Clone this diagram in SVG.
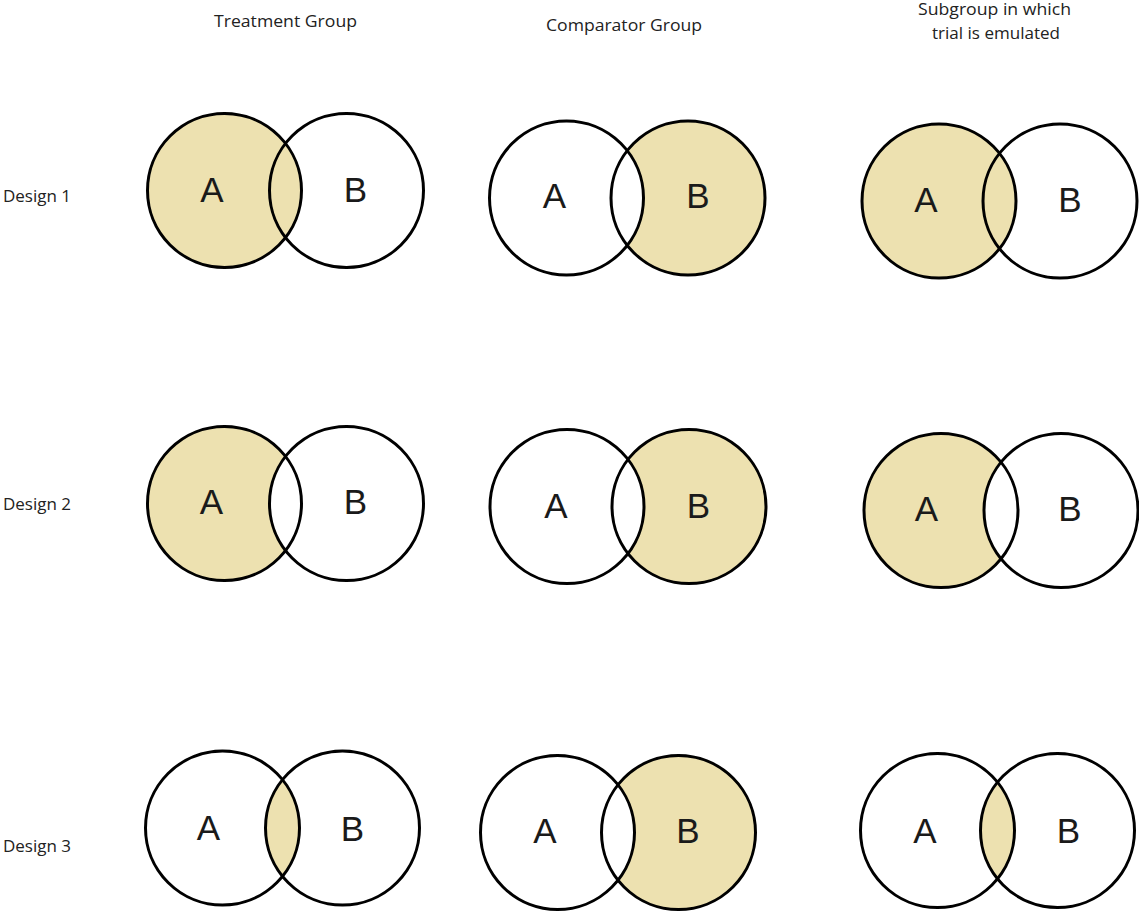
<svg xmlns="http://www.w3.org/2000/svg" width="1139" height="914" viewBox="0 0 1139 914">
<style>
.c{fill:none;stroke:#000;stroke-width:3}
.f{fill:#EDE1B0;stroke:none}
.w{fill:#fff;stroke:none}
.l{font-family:"Liberation Sans",Arial,sans-serif;font-size:35px;fill:#1a1a1a;text-anchor:middle}
.h{font-family:"Open Sans","DejaVu Sans",sans-serif;font-size:16px;fill:#222;text-anchor:middle}
.d{font-family:"Open Sans","DejaVu Sans",sans-serif;font-size:16.5px;fill:#222}
</style>
<rect width="1139" height="914" fill="#fff"/>
<g id="headers">
<text class="h" x="285.5" y="27" textLength="143" lengthAdjust="spacingAndGlyphs">Treatment Group</text>
<text class="h" x="624" y="31" textLength="156" lengthAdjust="spacingAndGlyphs">Comparator Group</text>
<text class="h" x="994.5" y="15" textLength="153" lengthAdjust="spacingAndGlyphs">Subgroup in which</text>
<text class="h" x="996" y="39" textLength="128" lengthAdjust="spacingAndGlyphs">trial is emulated</text>
</g>
<g id="row-labels">
<text class="d" x="3" y="202" textLength="68" lengthAdjust="spacingAndGlyphs">Design 1</text>
<text class="d" x="3" y="510" textLength="68" lengthAdjust="spacingAndGlyphs">Design 2</text>
<text class="d" x="3" y="852" textLength="68" lengthAdjust="spacingAndGlyphs">Design 3</text>
</g>
<!-- Row 1 -->
<g id="d1-treatment">
<circle class="f" cx="224.5" cy="190.5" r="77"/>
<circle class="c" cx="224.5" cy="190.5" r="77"/>
<circle class="c" cx="346.5" cy="190.5" r="77"/>
<text class="l" x="212" y="202">A</text>
<text class="l" x="355.5" y="202">B</text>
</g>
<g id="d1-comparator">
<circle class="f" cx="688" cy="198" r="77"/>
<path class="w" d="M627.25,150.69 A77,77 0 0 1 627.25,245.31 A77,77 0 0 1 627.25,150.69 Z"/>
<circle class="c" cx="566.5" cy="198" r="77"/>
<circle class="c" cx="688" cy="198" r="77"/>
<text class="l" x="554.5" y="208">A</text>
<text class="l" x="698" y="208">B</text>
</g>
<g id="d1-subgroup">
<circle class="f" cx="939" cy="201" r="77"/>
<circle class="c" cx="939" cy="201" r="77"/>
<circle class="c" cx="1060" cy="201" r="77"/>
<text class="l" x="926" y="212">A</text>
<text class="l" x="1070" y="212">B</text>
</g>
<!-- Row 2 -->
<g id="d2-treatment">
<circle class="f" cx="224.5" cy="503.5" r="77"/>
<path class="w" d="M285.5,456.51 A77,77 0 0 1 285.5,550.49 A77,77 0 0 1 285.5,456.51 Z"/>
<circle class="c" cx="224.5" cy="503.5" r="77"/>
<circle class="c" cx="346.5" cy="503.5" r="77"/>
<text class="l" x="211.5" y="514">A</text>
<text class="l" x="355.5" y="514">B</text>
</g>
<g id="d2-comparator">
<circle class="f" cx="689" cy="506.5" r="77"/>
<path class="w" d="M628,459.51 A77,77 0 0 1 628,553.49 A77,77 0 0 1 628,459.51 Z"/>
<circle class="c" cx="567" cy="506.5" r="77"/>
<circle class="c" cx="689" cy="506.5" r="77"/>
<text class="l" x="556" y="518">A</text>
<text class="l" x="698.5" y="518">B</text>
</g>
<g id="d2-subgroup">
<circle class="f" cx="941" cy="510.5" r="77"/>
<path class="w" d="M1001,462.24 A77,77 0 0 1 1001,558.76 A77,77 0 0 1 1001,462.24 Z"/>
<circle class="c" cx="941" cy="510.5" r="77"/>
<circle class="c" cx="1061" cy="510.5" r="77"/>
<text class="l" x="926.5" y="521">A</text>
<text class="l" x="1070" y="521">B</text>
</g>
<!-- Row 3 -->
<g id="d3-treatment">
<path class="f" d="M282.5,779.74 A77,77 0 0 1 282.5,876.26 A77,77 0 0 1 282.5,779.74 Z"/>
<circle class="c" cx="222.5" cy="828" r="77"/>
<circle class="c" cx="342.5" cy="828" r="77"/>
<text class="l" x="208.5" y="840">A</text>
<text class="l" x="352.5" y="841">B</text>
</g>
<g id="d3-comparator">
<circle class="f" cx="678.5" cy="832.5" r="77"/>
<path class="w" d="M618,784.87 A77,77 0 0 1 618,880.13 A77,77 0 0 1 618,784.87 Z"/>
<circle class="c" cx="557.5" cy="832.5" r="77"/>
<circle class="c" cx="678.5" cy="832.5" r="77"/>
<text class="l" x="545" y="843">A</text>
<text class="l" x="688" y="843">B</text>
</g>
<g id="d3-subgroup">
<path class="f" d="M997.5,782.24 A77,77 0 0 1 997.5,878.76 A77,77 0 0 1 997.5,782.24 Z"/>
<circle class="c" cx="937.5" cy="830.5" r="77"/>
<circle class="c" cx="1057.5" cy="830.5" r="77"/>
<text class="l" x="925" y="843">A</text>
<text class="l" x="1068.5" y="843">B</text>
</g>
<g id="connectors"/>
</svg>
